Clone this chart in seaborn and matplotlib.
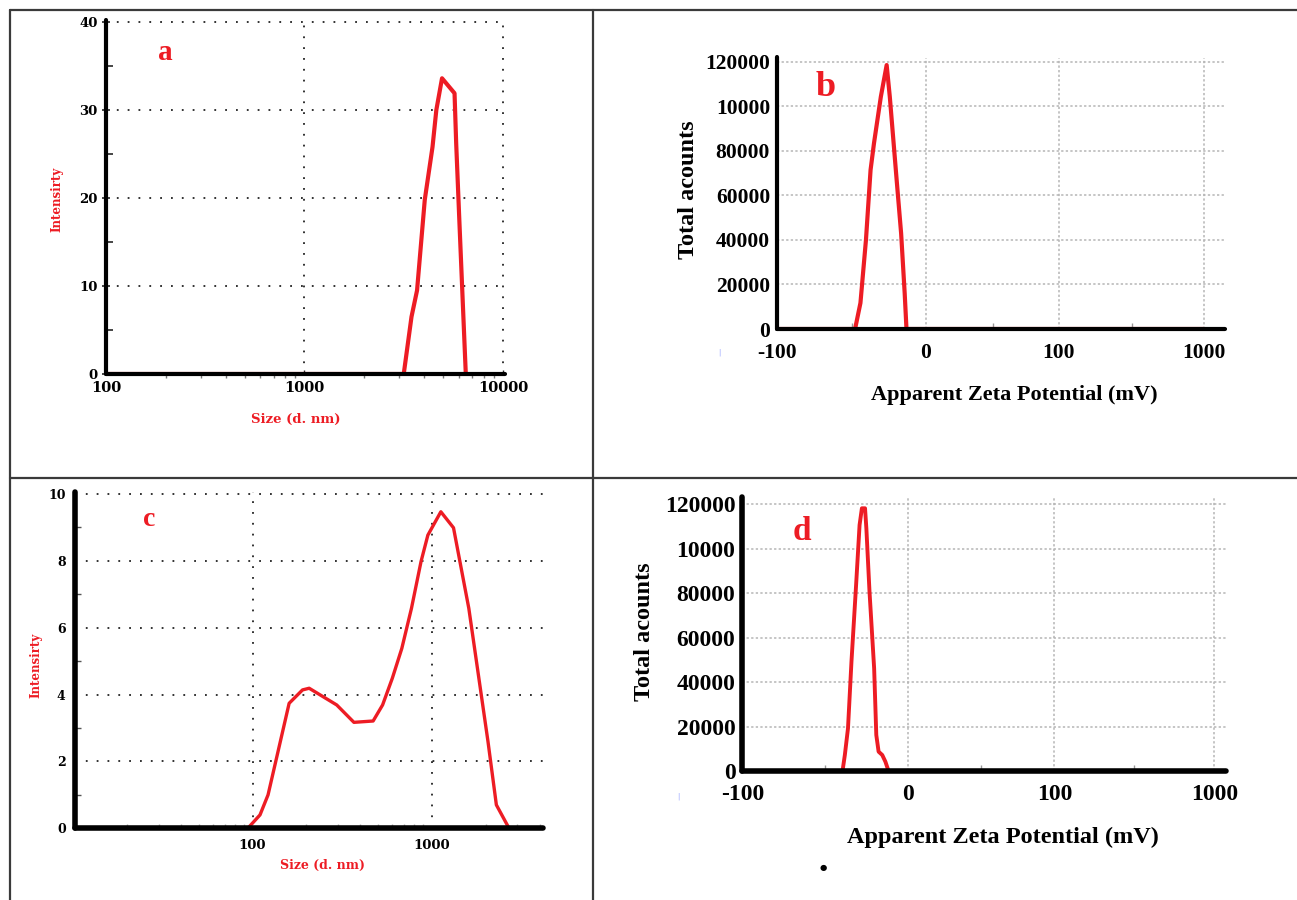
import numpy as np
import matplotlib
matplotlib.use("Agg")
import matplotlib.pyplot as plt
import seaborn as sns
from matplotlib.lines import Line2D
from matplotlib.ticker import LogLocator, NullFormatter

# ---------------- data ----------------
# (a) size distribution
a_size = [100, 3162, 3460, 3690, 4036, 4415, 4615, 4930, 5700, 5810, 6015, 6235, 6495]
a_intensity = [0, 0, 6.5, 9.5, 19.8, 25.8, 30.0, 33.6, 31.9, 26.2, 17.9, 9.5, 0]
a_xticks = [100, 1000, 10000]
a_xticklabels = ["100", "1000", "10000"]
a_yticks = [0, 10, 20, 30, 40]
a_yticklabels = ["0", "10", "20", "30", "40"]

# (b) zeta potential
b_zeta = [-100, -47.6, -44.0, -40.3, -37.2, -34.9, -30.3, -26.4, -24.3, -19.7, -16.7, -14.3, -13.1, 1000]
b_counts = [0, 0, 11700, 40000, 71500, 83500, 104400, 118600, 104400, 67000, 43000, 16000, 0, 0]

# (c) size distribution
c_size = [94, 110, 122, 160, 190, 207, 295, 368, 471, 532, 603, 681, 771, 872, 952,
          1125, 1324, 1426, 1612, 1823, 2063, 2297, 2704]
c_intensity = [0, 0.4, 1.0, 3.74, 4.14, 4.19, 3.69, 3.17, 3.21, 3.69, 4.49, 5.38, 6.58,
               7.98, 8.77, 9.47, 8.99, 8.08, 6.58, 4.59, 2.59, 0.70, 0]
c_xticks = [100, 1000]
c_xticklabels = ["100", "1000"]
c_yticks = [0, 2, 4, 6, 8, 10]
c_yticklabels = ["0", "2", "4", "6", "8", "10"]

# (d) zeta potential
d_zeta = [-100, -39.5, -38.1, -36.2, -34.1, -31.3, -29.2, -27.8, -25.9, -25.1, -23.2,
          -20.4, -19.1, -17.7, -15.5, -13.6, -11.7, 1000]
d_counts = [0, 0, 7200, 19200, 49200, 83700, 110700, 118200, 118200, 109200, 80700,
            46200, 16200, 8700, 7200, 4200, 0, 0]

zeta_xticks = [-100, 0, 100, 1000]
zeta_xticklabels = ["-100", "0", "100", "1000"]
zeta_yticks = [0, 20000, 40000, 60000, 80000, 100000, 120000]
zeta_yticklabels = ["0", "20000", "40000", "60000", "80000", "10000", "120000"]

# ---------------- style ----------------
sns.set_theme(style="white")
plt.rcParams['font.family'] = ['DejaVu Serif', 'DejaVu Sans']

W, H = 1297, 900
fig = plt.figure(figsize=(W / 100, H / 100), dpi=100)
RED = '#ed1c24'
SERIF_A = ['DejaVu Serif']
SERIF_B = ['Liberation Serif', 'DejaVu Serif']


def box(l, r, t, b):
    return [l / W, 1 - b / H, (r - l) / W, (b - t) / H]


def fx(px):
    return px / W


def fy(py):
    return 1 - py / H


# frame (table lines)
for (x0, y0, x1, y1) in [(10, 10, 1297, 10), (10, 10, 10, 900), (593, 10, 593, 900), (10, 478, 1297, 478)]:
    fig.add_artist(Line2D([fx(x0), fx(x1)], [fy(y0), fy(y1)], transform=fig.transFigure,
                          color='#3a3a3a', lw=1.6))


def style_spines(ax, lw):
    for s in ['top', 'right']:
        ax.spines[s].set_visible(False)
    for s in ['left', 'bottom']:
        ax.spines[s].set_linewidth(lw)
        ax.spines[s].set_color('black')
        ax.spines[s].set_capstyle('round')
        ax.spines[s].set_zorder(3)


def set_labels(ax, xt, xl, yt, yl, family, xsize, ysize):
    ax.set_xticks(xt)
    ax.set_xticklabels(xl, fontfamily=family, fontweight='bold', fontsize=xsize, color='black')
    ax.set_yticks(yt)
    ax.set_yticklabels(yl, fontfamily=family, fontweight='bold', fontsize=ysize, color='black')


def make_zeta_funcs(pos):
    vals = np.array([-1000, -100, 0, 100, 1000, 10000], dtype=float)
    p = np.array(pos, dtype=float)
    p_full = np.concatenate([[p[0] - 9 * (p[1] - p[0])], p, [p[-1] + 10 * (p[-1] - p[-2])]])

    def fwd(x):
        return np.interp(x, vals, p_full)

    def inv(y):
        return np.interp(y, p_full, vals)
    return fwd, inv


# ---------------- panel a ----------------
ax = fig.add_axes(box(106, 505, 20.2, 374))
ax.set_xscale('log')
sns.lineplot(x=a_size, y=a_intensity, ax=ax, color=RED, lw=3, sort=False, estimator=None)
ax.set_xlim(100, 10235)
ax.set_ylim(0, 40.2)
set_labels(ax, a_xticks, a_xticklabels, a_yticks, a_yticklabels, SERIF_A, 10.5, 9.5)
ax.xaxis.set_minor_locator(LogLocator(base=10, subs=np.arange(2, 10)))
ax.xaxis.set_minor_formatter(NullFormatter())
ax.set_yticks([5, 15, 25, 35], minor=True)
ax.grid(True, which='major', color='#222222', ls=(0, (1, 5)), lw=1.3)
ax.tick_params(axis='y', which='major', direction='inout', length=6, width=1.2, pad=3, left=True)
ax.tick_params(axis='y', which='minor', direction='in', length=5, width=1.2, left=True)
ax.tick_params(axis='x', which='major', direction='in', length=3, width=1, pad=5, bottom=True)
ax.tick_params(axis='x', which='minor', direction='out', length=3, width=1, color='#777777', bottom=True)
style_spines(ax, 3)
ax.set_xlabel('')
ax.set_ylabel('')
fig.text(fx(165), fy(52), 'a', color=RED, fontsize=21, fontweight='bold', family=SERIF_B,
         ha='center', va='center')
fig.text(fx(57), fy(199), 'Intensirty', color=RED, fontsize=8.5, fontweight='bold', family=SERIF_A,
         rotation=90, ha='center', va='center')
fig.text(fx(296), fy(419), 'Size (d. nm)', color=RED, fontsize=9.5, fontweight='bold', family=SERIF_A,
         ha='center', va='center')

# ---------------- panel b ----------------
b_pos = [0, 149, 282, 427]
fwd_b, inv_b = make_zeta_funcs(b_pos)
ax = fig.add_axes(box(777, 1225, 57.5, 329))
sns.lineplot(x=b_zeta, y=b_counts, ax=ax, color=RED, lw=3, sort=False, estimator=None)
ax.set_xscale('function', functions=(fwd_b, inv_b))
ax.set_xlim(-100, float(inv_b(448)))
ax.set_ylim(0, 122000)
set_labels(ax, zeta_xticks, zeta_xticklabels, zeta_yticks, zeta_yticklabels, SERIF_B, 15.5, 15.5)
ax.set_xticks([-50, 50, 550], minor=True)
ax.grid(True, which='major', color='#b5b5b5', ls=(0, (1.5, 1.5)), lw=1.1)
ax.tick_params(axis='y', which='both', length=0, pad=5)
ax.tick_params(axis='x', which='major', length=0, pad=10)
ax.tick_params(axis='x', which='minor', direction='in', length=4, width=1, color='#999999', bottom=True)
style_spines(ax, 3)
ax.set_xlabel('')
ax.set_ylabel('')
fig.text(fx(826), fy(87), 'b', color=RED, fontsize=26, fontweight='bold', family=SERIF_B,
         ha='center', va='center')
fig.text(fx(688), fy(190), 'Total acounts', color='black', fontsize=17.5, fontweight='bold', family=SERIF_B,
         rotation=90, ha='center', va='center')
fig.text(fx(1014), fy(395), 'Apparent Zeta Potential (mV)', color='black', fontsize=16, fontweight='bold',
         family=SERIF_B, ha='center', va='center')
fig.text(fx(719), fy(353), '|', color='#8090ff', fontsize=5, ha='center', va='center')

# ---------------- panel c ----------------
ax = fig.add_axes(box(75.4, 543.4, 491.7, 828.3))
ax.set_xscale('log')
sns.lineplot(x=c_size, y=c_intensity, ax=ax, color=RED, lw=2.4, sort=False, estimator=None)
ax.set_xlim(10.25, 4205)
ax.set_ylim(0, 10.07)
set_labels(ax, c_xticks, c_xticklabels, c_yticks, c_yticklabels, SERIF_A, 9.5, 9)
ax.xaxis.set_minor_locator(LogLocator(base=10, subs=np.arange(2, 10)))
ax.xaxis.set_minor_formatter(NullFormatter())
ax.set_yticks([1, 3, 5, 7, 9], minor=True)
ax.grid(True, which='major', color='#222222', ls=(0, (1, 5)), lw=1.3)
ax.tick_params(axis='y', which='major', length=0, pad=7)
ax.tick_params(axis='y', which='minor', direction='in', length=4, width=1, color='#555555', left=True)
ax.tick_params(axis='x', which='major', length=0, pad=8)
ax.tick_params(axis='x', which='minor', direction='in', length=3, width=1, color='#aaaaaa', bottom=True)
style_spines(ax, 4)
ax.set_xlabel('')
ax.set_ylabel('')
fig.text(fx(149), fy(520), 'c', color=RED, fontsize=20, fontweight='bold', family=SERIF_B,
         ha='center', va='center')
fig.text(fx(36), fy(665), 'Intensirty', color=RED, fontsize=8.5, fontweight='bold', family=SERIF_A,
         rotation=90, ha='center', va='center')
fig.text(fx(323), fy(865), 'Size (d. nm)', color=RED, fontsize=9, fontweight='bold', family=SERIF_A,
         ha='center', va='center')

# ---------------- panel d ----------------
d_pos = [0, 165.5, 312, 472]
fwd_d, inv_d = make_zeta_funcs(d_pos)
ax = fig.add_axes(box(742.4, 1225.7, 496.7, 771))
sns.lineplot(x=d_zeta, y=d_counts, ax=ax, color=RED, lw=2.8, sort=False, estimator=None)
ax.set_xscale('function', functions=(fwd_d, inv_d))
ax.set_xlim(-100, float(inv_d(483.3)))
ax.set_ylim(0, 123420)
set_labels(ax, zeta_xticks, zeta_xticklabels, zeta_yticks, zeta_yticklabels, SERIF_B, 17, 17)
ax.set_xticks([-50, 50, 550], minor=True)
ax.grid(True, which='major', color='#b5b5b5', ls=(0, (1.5, 1.5)), lw=1.1)
ax.tick_params(axis='y', which='both', length=0, pad=5)
ax.tick_params(axis='x', which='major', length=0, pad=9)
ax.tick_params(axis='x', which='minor', direction='in', length=4, width=1, color='#999999', bottom=True)
style_spines(ax, 4)
ax.set_xlabel('')
ax.set_ylabel('')
fig.text(fx(802), fy(532), 'd', color=RED, fontsize=24, fontweight='bold', family=SERIF_B,
         ha='center', va='center')
fig.text(fx(644), fy(632), 'Total acounts', color='black', fontsize=17.5, fontweight='bold', family=SERIF_B,
         rotation=90, ha='center', va='center')
fig.text(fx(1003), fy(837), 'Apparent Zeta Potential (mV)', color='black', fontsize=17.5, fontweight='bold',
         family=SERIF_B, ha='center', va='center')
fig.text(fx(823.5), fy(867.7), '\u25cf', color='black', fontsize=6, family=['DejaVu Sans'],
         ha='center', va='center')
fig.text(fx(678), fy(796), '|', color='#8090ff', fontsize=5, ha='center', va='center')

fig.savefig('out.png', dpi=100, facecolor='white')
